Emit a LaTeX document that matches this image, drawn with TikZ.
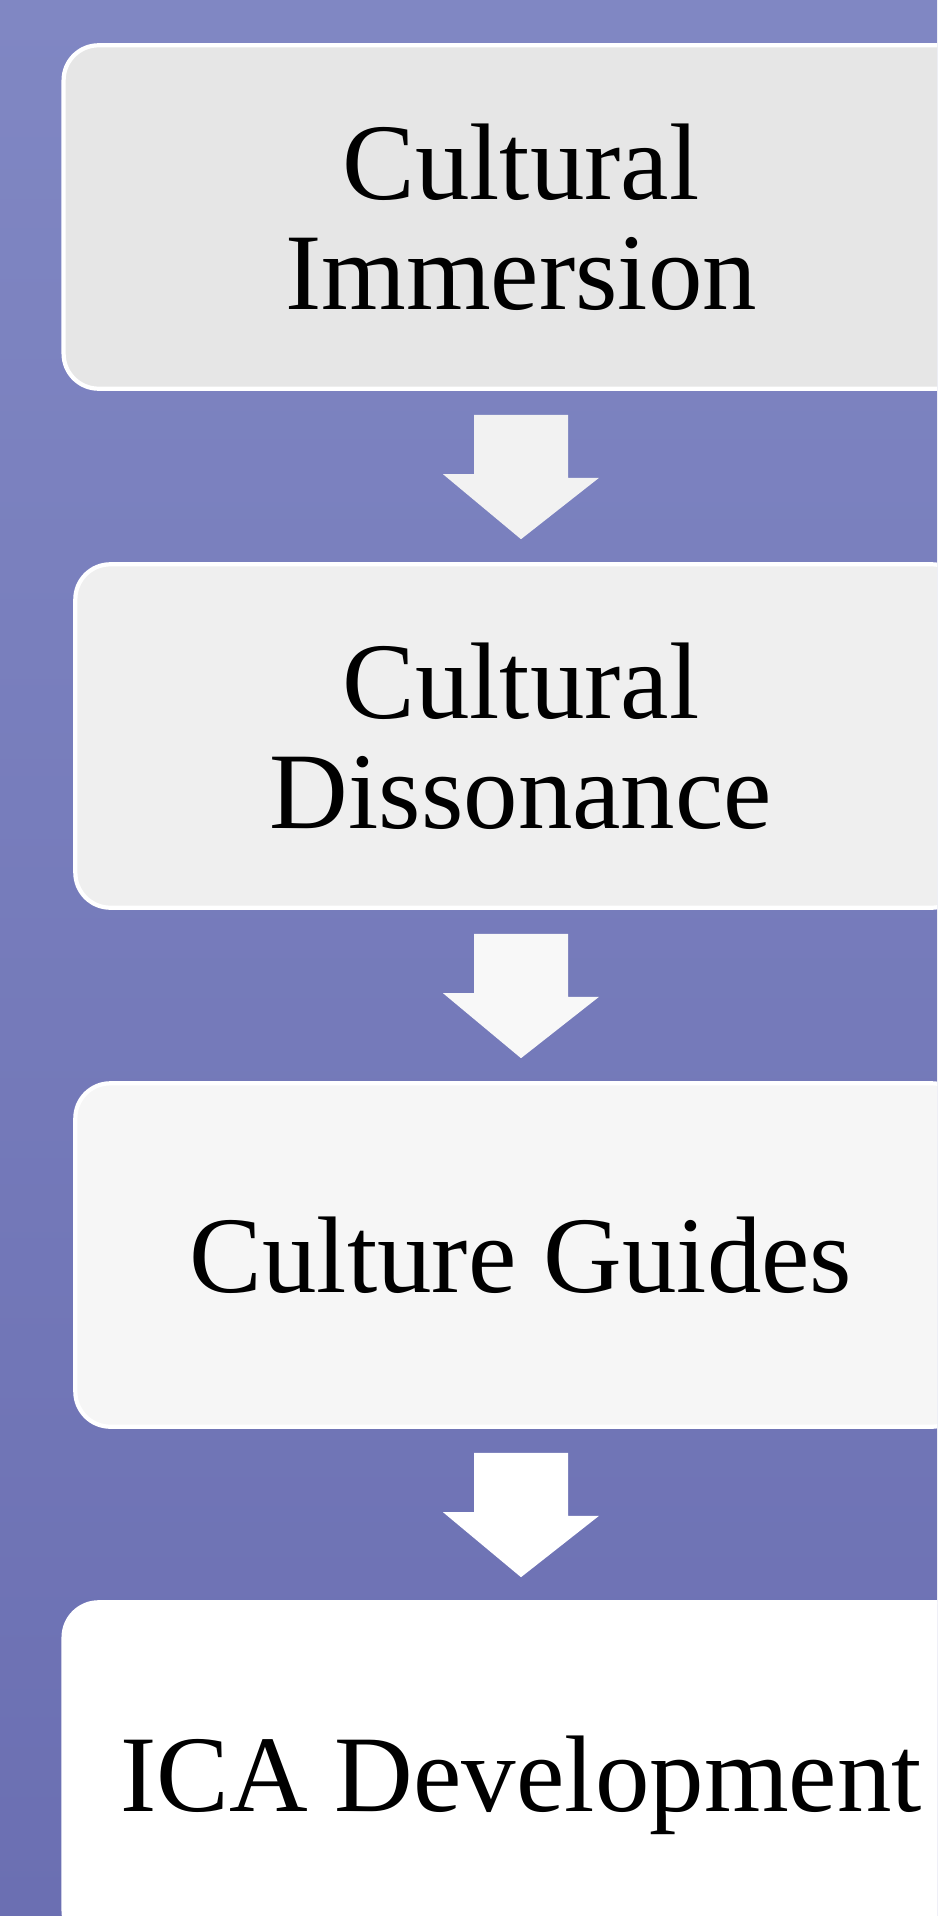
\documentclass[tikz,border=0pt]{standalone}
\usepackage{fontspec}
\setmainfont{Liberation Serif}
\usetikzlibrary{calc}
\definecolor{bgtop}{RGB}{128,135,195}
\definecolor{bgbot}{RGB}{107,111,178}
\definecolor{boxA}{HTML}{E6E6E6}
\definecolor{boxB}{HTML}{EFEFEF}
\definecolor{boxC}{HTML}{F6F6F6}
\definecolor{arrowA}{HTML}{F2F2F2}
\definecolor{arrowB}{HTML}{F8F8F8}
\tikzset{
  stage/.style={draw=white, line width=2.4pt, rounded corners=0.7cm, minimum height=6.87cm,
    inner sep=0pt, align=center, font=\fontsize{62}{62.6}\selectfont},
  wide/.style={minimum width=18.3cm},
  narrow/.style={minimum width=17.83cm}
}

\begin{document}
\begin{tikzpicture}[x=0.02cm, y=-0.02cm]
\useasboundingbox (0,0) rectangle (937,1916);
\clip (0,0) rectangle (937,1916);
\shade[top color=bgtop, bottom color=bgbot] (0,0) rectangle (937,1916);
% stages
\node[stage, wide, fill=boxA] (immersion) at (521,217) {Cultural\\Immersion};
\node[stage, narrow, fill=boxB] (dissonance) at (521,736) {Cultural\\Dissonance};
\node[stage, narrow, fill=boxC] (guides) at (521,1255) {Culture Guides};
\node[stage, wide, fill=white, text depth=0pt] (ica) at (521,1774) {ICA Development};
% block arrows
\foreach \a/\b/\c in {immersion/dissonance/arrowA, dissonance/guides/arrowB, guides/ica/white}
\fill[\c] ($(\a.south)+(-47,24)$) -- ++(94,0) -- ++(0,63) -- ++(31,0)
  -- ($(\b.north)+(0,-23)$) -- ++(-78,-65) -- ++(31,0) -- cycle;
\end{tikzpicture}
\end{document}
